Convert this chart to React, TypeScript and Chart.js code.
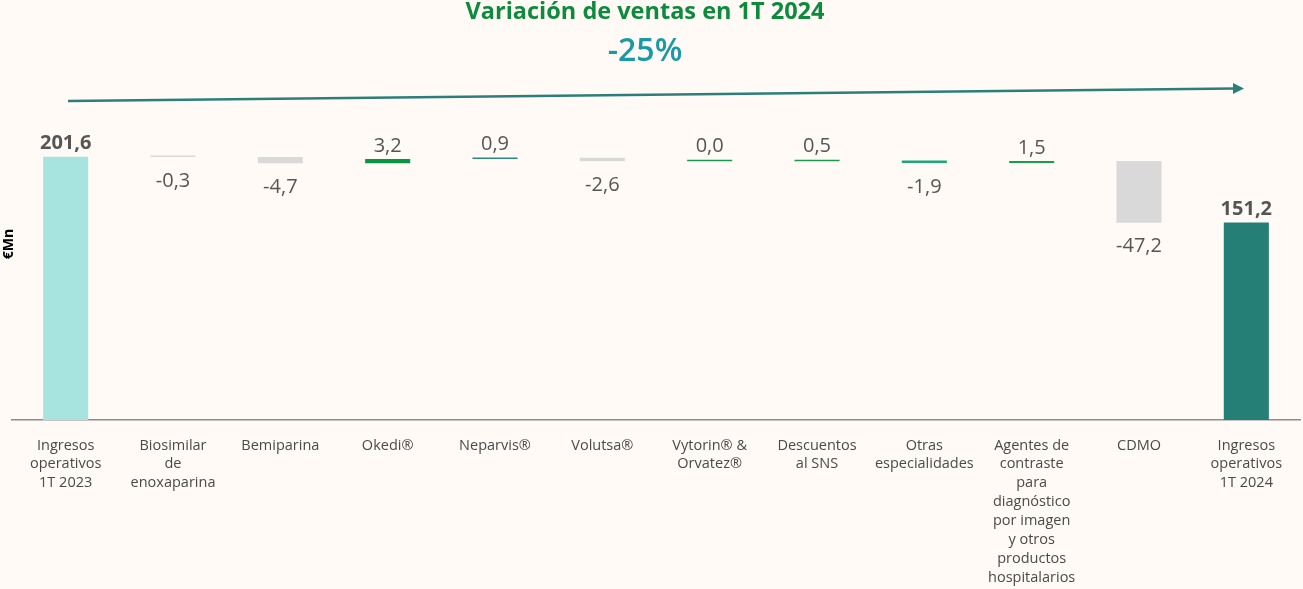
import React, { useEffect, useRef } from 'react';
import { Chart, registerables } from 'chart.js';

Chart.register(...registerables);

const categories: string[][] = [
  ['Ingresos', 'operativos', '1T 2023'],
  ['Biosimilar', 'de', 'enoxaparina'],
  ['Bemiparina'],
  ['Okedi®'],
  ['Neparvis®'],
  ['Volutsa®'],
  ['Vytorin® &', 'Orvatez®'],
  ['Descuentos', 'al SNS'],
  ['Otras', 'especialidades'],
  ['Agentes de', 'contraste', 'para', 'diagnóstico', 'por imagen', 'y otros', 'productos', 'hospitalarios'],
  ['CDMO'],
  ['Ingresos', 'operativos', '1T 2024'],
];

const values: number[] = [201.6, -0.3, -4.7, 3.2, 0.9, -2.6, 0.0, 0.5, -1.9, 1.5, -47.2, 151.2];
const isTotal: boolean[] = [true, false, false, false, false, false, false, false, false, false, false, true];
const valueLabels: string[] = ['201,6', '-0,3', '-4,7', '3,2', '0,9', '-2,6', '0,0', '0,5', '-1,9', '1,5', '-47,2', '151,2'];
const barColors: string[] = [
  '#a8e4df', '#d9d9d9', '#d9d9d9', '#0b9444', '#2a8a7e', '#d9d9d9',
  '#1a9a4e', '#1a9a4e', '#1fa77a', '#13a04a', '#d9d9d9', '#267f76',
];
const chartTitle = 'Variación de ventas en 1T 2024';
const chartSubtitle = '-25%';
const yAxisLabel = '€Mn';

const FONT = '"Open Sans", "DejaVu Sans", sans-serif';

function buildFloating(): [number, number][] {
  const out: [number, number][] = [];
  let running = 0;
  values.forEach((v, i) => {
    if (isTotal[i]) {
      out.push([0, v]);
      running = v;
    } else {
      out.push([running, running + v]);
      running = running + v;
    }
  });
  return out;
}

const decorPlugin = {
  id: 'decor',
  afterDraw(chart: any) {
    const ctx = chart.ctx as CanvasRenderingContext2D;
    ctx.save();
    // title
    ctx.textAlign = 'center';
    ctx.textBaseline = 'middle';
    ctx.fillStyle = '#0d8a3c';
    ctx.font = `bold 23.5px ${FONT}`;
    ctx.fillText(chartTitle, 645, 12);
    ctx.fillStyle = '#1b9aa6';
    ctx.font = `600 32px ${FONT}`;
    ctx.fillText(chartSubtitle, 645, 52);
    // arrow
    ctx.strokeStyle = '#2b7f78';
    ctx.fillStyle = '#2b7f78';
    ctx.lineWidth = 2.5;
    ctx.beginPath();
    ctx.moveTo(68, 101);
    ctx.lineTo(1234, 88.6);
    ctx.stroke();
    ctx.beginPath();
    ctx.moveTo(1244, 88.5);
    ctx.lineTo(1233, 83);
    ctx.lineTo(1233, 94);
    ctx.closePath();
    ctx.fill();
    // y label
    ctx.save();
    ctx.translate(9, 244);
    ctx.rotate(-Math.PI / 2);
    ctx.fillStyle = '#000000';
    ctx.font = `bold 14px ${FONT}`;
    ctx.fillText(yAxisLabel, 0, 0);
    ctx.restore();
    // value labels
    const meta = chart.getDatasetMeta(0);
    meta.data.forEach((el: any, i: number) => {
      const top = Math.min(el.y, el.base);
      const bottom = Math.max(el.y, el.base);
      ctx.fillStyle = '#555555';
      ctx.font = `${isTotal[i] ? 'bold' : '500'} 20px ${FONT}`;
      if (isTotal[i] || values[i] >= 0) {
        ctx.fillText(valueLabels[i], el.x, top - 13);
      } else {
        ctx.fillText(valueLabels[i], el.x, bottom + 24);
      }
    });
    ctx.restore();
  },
};

export default function App() {
  const ref = useRef<HTMLCanvasElement | null>(null);
  useEffect(() => {
    if (!ref.current) return;
    const chart = new Chart(ref.current, {
      type: 'bar',
      data: {
        labels: categories,
        datasets: [
          {
            data: buildFloating() as any,
            backgroundColor: barColors,
            borderWidth: 0,
            barPercentage: 0.42,
            categoryPercentage: 1,
            minBarLength: 1.5,
          },
        ],
      },
      options: {
        animation: false,
        responsive: false,
        maintainAspectRatio: false,
        layout: { padding: { top: 130, left: 12, right: 3, bottom: 0 } },
        plugins: { legend: { display: false }, tooltip: { enabled: false }, title: { display: false } },
        scales: {
          x: {
            grid: { display: false, drawTicks: false },
            border: { display: true, color: '#8c8c8c', width: 1.5 },
            ticks: {
              color: '#4a4a4a',
              font: { family: FONT, size: 14.5, weight: '500', lineHeight: 1.3 },
              padding: 16,
              maxRotation: 0,
              autoSkip: false,
            },
            afterFit: (scale: any) => {
              scale.height = 169;
            },
          },
          y: { display: false, min: 0, max: 222 },
        },
      },
      plugins: [decorPlugin],
    });
    return () => chart.destroy();
  }, []);
  return (
    <div style={{ position: 'fixed', left: 0, top: 0, width: 1303, height: 589, background: '#fffaf5' }}>
      <canvas ref={ref} width={1303} height={589} style={{ width: 1303, height: 589, display: 'block' }} />
    </div>
  );
}
